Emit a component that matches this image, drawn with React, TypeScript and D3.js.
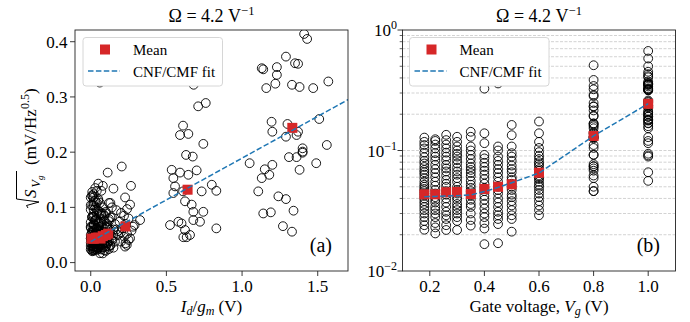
import * as d3 from "d3";

// gate voltages of the measured columns (V)
const gateVoltages = [0.18, 0.22, 0.26, 0.3, 0.35, 0.4, 0.45, 0.5, 0.6, 0.8, 1.0];

// device points per gate voltage: [Id/gm (V), sqrt(S_Vg) (mV/Hz^0.5)]
const pts018 = [
  [0.01, 0.128], [0.0, 0.118], [0.02, 0.111], [0.01, 0.104], [0.0, 0.096], [0.02, 0.088],
  [0.01, 0.082], [0.03, 0.078], [0.0, 0.073], [0.02, 0.069], [0.01, 0.066], [0.0, 0.063],
  [0.02, 0.059], [0.01, 0.055], [0.03, 0.052], [0.0, 0.05], [0.02, 0.048], [0.01, 0.046],
  [0.0, 0.044], [0.02, 0.042], [0.01, 0.04], [0.03, 0.038], [0.0, 0.036], [0.02, 0.034],
  [0.01, 0.032], [0.0, 0.03], [0.02, 0.028], [0.01, 0.026], [0.0, 0.024], [0.02, 0.022],
];
const pts022 = [
  [0.02, 0.124], [0.01, 0.12], [0.03, 0.112], [0.0, 0.104], [0.02, 0.095], [0.04, 0.089],
  [0.01, 0.083], [0.03, 0.076], [0.02, 0.07], [0.0, 0.065], [0.04, 0.06], [0.01, 0.055],
  [0.03, 0.051], [0.02, 0.047], [0.0, 0.044], [0.04, 0.041], [0.01, 0.039], [0.03, 0.037],
  [0.02, 0.034], [0.05, 0.032], [0.01, 0.03], [0.03, 0.028], [0.02, 0.025], [0.04, 0.023],
  [0.01, 0.0205],
];
const pts026 = [
  [0.03, 0.135], [0.01, 0.122], [0.05, 0.112], [0.02, 0.104], [0.04, 0.096], [0.06, 0.089],
  [0.01, 0.083], [0.03, 0.076], [0.05, 0.071], [0.02, 0.067], [0.04, 0.062], [0.01, 0.057],
  [0.03, 0.053], [0.05, 0.05], [0.02, 0.046], [0.04, 0.043], [0.06, 0.04], [0.01, 0.037],
  [0.03, 0.034], [0.05, 0.031], [0.02, 0.029], [0.04, 0.027], [0.03, 0.024], [0.01, 0.0219],
];
const pts030 = [
  [0.04, 0.13], [0.02, 0.118], [0.06, 0.108], [0.03, 0.1], [0.05, 0.094], [0.07, 0.089],
  [0.02, 0.083], [0.04, 0.078], [0.06, 0.072], [0.03, 0.067], [0.08, 0.063], [0.05, 0.059],
  [0.02, 0.055], [0.04, 0.05], [0.06, 0.047], [0.03, 0.044], [0.07, 0.041], [0.05, 0.039],
  [0.02, 0.036], [0.04, 0.034], [0.06, 0.032], [0.03, 0.03], [0.05, 0.028], [0.04, 0.026],
  [0.02, 0.0219],
];
const pts035 = [
  [0.05, 0.143], [0.07, 0.13], [0.04, 0.108], [0.08, 0.1], [0.06, 0.092], [0.09, 0.085],
  [0.03, 0.078], [0.07, 0.073], [0.05, 0.069], [0.1, 0.065], [0.04, 0.061], [0.08, 0.056],
  [0.06, 0.052], [0.03, 0.049], [0.09, 0.046], [0.05, 0.042], [0.07, 0.039], [0.04, 0.036],
  [0.08, 0.034], [0.06, 0.03], [0.05, 0.0265], [0.07, 0.0238],
];
const pts040 = [
  [0.06, 0.326], [0.08, 0.139], [0.05, 0.115], [0.1, 0.092], [0.07, 0.086], [0.12, 0.079],
  [0.05, 0.073], [0.09, 0.068], [0.11, 0.063], [0.06, 0.058], [0.08, 0.053], [0.1, 0.049],
  [0.04, 0.046], [0.07, 0.042], [0.12, 0.039], [0.09, 0.036], [0.06, 0.033], [0.1, 0.03],
  [0.08, 0.028], [0.05, 0.025], [0.09, 0.0225], [0.08, 0.0167],
];
const pts045 = [
  [0.1, 0.36], [0.12, 0.108], [0.08, 0.089], [0.14, 0.1], [0.09, 0.076], [0.13, 0.082],
  [0.07, 0.065], [0.11, 0.07], [0.15, 0.06], [0.08, 0.055], [0.12, 0.05], [0.1, 0.047],
  [0.14, 0.044], [0.07, 0.04], [0.11, 0.037], [0.09, 0.034], [0.13, 0.031], [0.1, 0.029],
  [0.08, 0.027], [0.12, 0.0245], [0.06, 0.017],
];
const pts050 = [
  [0.112, 0.163], [0.15, 0.134], [0.13, 0.108], [0.17, 0.095], [0.1, 0.089], [0.14, 0.082],
  [0.12, 0.075], [0.16, 0.07], [0.11, 0.066], [0.13, 0.06], [0.18, 0.057], [0.09, 0.053],
  [0.15, 0.05], [0.12, 0.047], [0.1, 0.043], [0.14, 0.041], [0.16, 0.038], [0.11, 0.035],
  [0.13, 0.032], [0.12, 0.029], [0.15, 0.027], [0.1, 0.0212],
];
const pts060 = [
  [0.205, 0.174], [0.266, 0.139], [0.227, 0.118], [0.26, 0.105], [0.326, 0.077], [0.2, 0.09],
  [0.28, 0.065], [0.26, 0.044], [0.238, 0.032], [0.227, 0.029], [0.24, 0.097], [0.22, 0.085],
  [0.25, 0.08], [0.19, 0.074], [0.23, 0.07], [0.21, 0.062], [0.27, 0.058], [0.2, 0.055],
  [0.24, 0.052], [0.18, 0.05], [0.22, 0.047], [0.25, 0.041], [0.2, 0.038], [0.23, 0.035],
  [0.29, 0.068], [0.17, 0.06],
];
const pts080 = [
  [0.7, 0.51], [0.59, 0.385], [0.62, 0.343], [0.68, 0.322], [0.71, 0.283], [0.76, 0.289],
  [0.59, 0.231], [0.61, 0.248], [0.645, 0.233], [0.744, 0.215], [0.63, 0.195], [0.674, 0.192],
  [0.535, 0.168], [0.59, 0.163], [0.645, 0.159], [0.7, 0.167], [0.546, 0.153], [0.557, 0.138],
  [0.546, 0.126], [0.61, 0.129], [0.623, 0.111], [0.667, 0.105], [0.678, 0.092], [0.733, 0.129],
  [0.744, 0.092], [0.8, 0.141], [0.83, 0.13], [0.524, 0.068], [0.579, 0.074], [0.6, 0.071],
  [0.678, 0.077], [0.722, 0.074], [0.623, 0.059], [0.634, 0.046], [0.612, 0.046], [0.656, 0.05],
  [0.83, 0.062],
];
const pts100 = [
  [1.45, 0.67], [1.5, 0.58], [1.3, 0.5], [1.2, 0.45], [1.34, 0.43], [1.41, 0.414],
  [1.43, 0.405], [1.29, 0.373], [1.13, 0.352], [1.14, 0.35], [1.23, 0.354], [1.35, 0.361],
  [1.37, 0.36], [1.23, 0.34], [1.22, 0.324], [1.16, 0.316], [1.33, 0.322], [1.38, 0.318],
  [1.47, 0.316], [1.57, 0.328], [1.195, 0.255], [1.2, 0.237], [1.3, 0.251], [1.29, 0.228],
  [1.36, 0.231], [1.37, 0.237], [1.51, 0.26], [1.4, 0.207], [1.56, 0.213], [1.4, 0.201],
  [1.05, 0.18], [1.15, 0.169], [1.2, 0.177], [1.18, 0.159], [1.13, 0.153], [1.31, 0.191],
  [1.36, 0.191], [1.4, 0.199], [1.38, 0.168], [1.49, 0.18], [1.107, 0.129], [1.24, 0.12],
  [1.29, 0.115], [1.14, 0.089], [1.19, 0.091], [1.34, 0.094], [1.27, 0.066], [1.33, 0.056],
];
const columns = [pts018, pts022, pts026, pts030, pts035, pts040, pts045, pts050, pts060, pts080, pts100];

// means per gate voltage
const meanIdGm = [0.005, 0.02, 0.035, 0.05, 0.065, 0.08, 0.1, 0.115, 0.229, 0.64, 1.332];
const meanS = [0.0433, 0.0433, 0.045, 0.0453, 0.0435, 0.0479, 0.05, 0.0524, 0.0654, 0.132, 0.244];

// CNF/CMF fit
const fitLeftX = [0, 1.75];
const fitLeftS = [0.038, 0.3026];
const fitRightS = [0.0414, 0.0416, 0.0419, 0.0422, 0.0428, 0.0456, 0.0494, 0.054, 0.065, 0.132, 0.245];

const leftXTicks = [0, 0.5, 1.0, 1.5];
const leftYTicks = [0, 0.1, 0.2, 0.3, 0.4];
const rightXTicks = [0.2, 0.4, 0.6, 0.8, 1.0];
const rightYMajor = [0.01, 0.1, 1];
const rightYExp = ["\u22122", "\u22121", "0"];

const font = "Liberation Serif, Times New Roman, Tinos, serif";
const red = "#d62728";
const blue = "#1f77b4";

function Legend({ x, y }: { x: number; y: number }) {
  return (
    <g>
      <rect x={x} y={y} width={139.5} height={48.5} rx={3} fill="#fff" stroke="#cccccc" strokeWidth={0.8} />
      <rect x={x + 17} y={y + 7} width={10} height={10} fill={red} />
      <text x={x + 50} y={y + 17.5} fontSize={15}>Mean</text>
      <line x1={x + 5} x2={x + 37} y1={y + 33.5} y2={y + 33.5} stroke={blue} strokeWidth={1.5} strokeDasharray="5.5,2.4" />
      <text x={x + 50} y={y + 39} fontSize={15}>CNF/CMF fit</text>
    </g>
  );
}

function Title({ cx }: { cx: number }) {
  return (
    <text x={cx} y={21.5} fontSize={18} textAnchor="middle">
      {"\u03A9 = 4.2 V"}
      <tspan fontSize={12.5} dy={-7}>{"\u22121"}</tspan>
    </text>
  );
}

export default function App() {
  const xL = d3.scaleLinear().domain([-0.104, 1.7]).range([75, 348]);
  const yL = d3.scaleLinear().domain([-0.0152, 0.4212]).range([271, 30]);
  const xR = d3.scaleLinear().domain([0.1, 1.1]).range([402.5, 675.5]);
  const yR = d3.scaleLog().domain([0.01, 1]).range([271, 30]);

  const lineL = d3.line<number>().x((_, i) => xL(fitLeftX[i])).y((d) => yL(d));
  const lineR = d3.line<number>().x((_, i) => xR(gateVoltages[i])).y((d) => yR(d));

  const rightMinor = yR.ticks().filter((t) => !rightYMajor.some((m) => Math.abs(m - t) < 1e-9));
  const r = 4.4;

  const [l0, l1] = xL.range();
  const [t0, t1] = yL.range();
  const [r0, r1] = xR.range();

  return (
    <svg width={690} height={322} style={{ position: "absolute", left: 0, top: 0, fontFamily: font }}>
      <defs>
        <clipPath id="clipL"><rect x={l0} y={t1} width={l1 - l0} height={t0 - t1} /></clipPath>
        <clipPath id="clipR"><rect x={r0} y={t1} width={r1 - r0} height={t0 - t1} /></clipPath>
      </defs>
      <rect width={690} height={322} fill="#fff" />

      {/* ---------- panel (a) ---------- */}
      <g clipPath="url(#clipL)">
        {columns.map((col, k) =>
          col.map((p, i) => (
            <circle key={`a${k}-${i}`} cx={xL(p[0])} cy={yL(p[1])} r={r} fill="none" stroke="#000" strokeWidth={0.9} />
          ))
        )}
        {meanS.map((s, i) => (
          <rect key={`am${i}`} x={xL(meanIdGm[i]) - 5} y={yL(s) - 5} width={10} height={10} fill={red} />
        ))}
        <path d={lineL(fitLeftS) || ""} fill="none" stroke={blue} strokeWidth={1.5} strokeDasharray="5.5,2.4" />
      </g>
      <rect x={l0} y={t1} width={l1 - l0} height={t0 - t1} fill="none" stroke="#222" strokeWidth={0.9} />
      {leftXTicks.map((t) => (
        <g key={`axt${t}`}>
          <line x1={xL(t)} x2={xL(t)} y1={t0} y2={t0 + 5} stroke="#222" strokeWidth={0.9} />
          <text x={xL(t)} y={291.5} fontSize={17} textAnchor="middle">{t.toFixed(1)}</text>
        </g>
      ))}
      {leftYTicks.map((t) => (
        <g key={`ayt${t}`}>
          <line x1={l0 - 5} x2={l0} y1={yL(t)} y2={yL(t)} stroke="#222" strokeWidth={0.9} />
          <text x={67.5} y={yL(t) + 5.8} fontSize={17} textAnchor="end">{t.toFixed(1)}</text>
        </g>
      ))}
      <Legend x={83} y={37.5} />
      <text x={332} y={252} fontSize={20} textAnchor="end">(a)</text>
      <Title cx={(l0 + l1) / 2} />
      <text x={(l0 + l1) / 2} y={311.5} fontSize={17} textAnchor="middle">
        <tspan fontStyle="italic">I</tspan>
        <tspan fontStyle="italic" fontSize={12} dy={3}>d</tspan>
        <tspan dy={-3}>/</tspan>
        <tspan fontStyle="italic">g</tspan>
        <tspan fontStyle="italic" fontSize={12} dy={3}>m</tspan>
        <tspan dy={-3}> (V)</tspan>
      </text>
      <g transform="translate(36,208) rotate(-90)" fontSize={17}>
        <path d="M0,-8 L2.5,-9.5 L6,3 L9,-19.5 L37,-19.5" fill="none" stroke="#000" strokeWidth={1} />
        <text x={10} y={0} fontStyle="italic">S</text>
        <text x={20.5} y={4} fontSize={12} fontStyle="italic">V</text>
        <text x={28} y={6.5} fontSize={9} fontStyle="italic">g</text>
        <text x={43} y={0}>(mV/Hz</text>
        <text x={99} y={-7} fontSize={12}>0.5</text>
        <text x={114} y={0}>)</text>
      </g>

      {/* ---------- panel (b) ---------- */}
      <g clipPath="url(#clipR)">
        {[...rightMinor, 0.1].map((t) => (
          <line key={`g${t}`} x1={r0} x2={r1} y1={yR(t)} y2={yR(t)} stroke="#c8c8c8" strokeWidth={0.8} strokeDasharray="3,1.5" />
        ))}
        {columns.map((col, k) =>
          col.map((p, i) => (
            <circle key={`b${k}-${i}`} cx={xR(gateVoltages[k])} cy={yR(p[1])} r={r} fill="none" stroke="#000" strokeWidth={0.9} />
          ))
        )}
        {meanS.map((s, i) => (
          <rect key={`bm${i}`} x={xR(gateVoltages[i]) - 5} y={yR(s) - 5} width={10} height={10} fill={red} />
        ))}
        <path d={lineR(fitRightS) || ""} fill="none" stroke={blue} strokeWidth={1.5} strokeDasharray="5.5,2.4" />
      </g>
      <rect x={r0} y={t1} width={r1 - r0} height={t0 - t1} fill="none" stroke="#222" strokeWidth={0.9} />
      {rightXTicks.map((t) => (
        <g key={`bxt${t}`}>
          <line x1={xR(t)} x2={xR(t)} y1={t0} y2={t0 + 5} stroke="#222" strokeWidth={0.9} />
          <text x={xR(t)} y={291.5} fontSize={17} textAnchor="middle">{t.toFixed(1)}</text>
        </g>
      ))}
      {rightMinor.map((t) => (
        <line key={`bmt${t}`} x1={r0 - 2.8} x2={r0} y1={yR(t)} y2={yR(t)} stroke="#222" strokeWidth={0.7} />
      ))}
      {rightYMajor.map((t, i) => (
        <g key={`byt${t}`}>
          <line x1={r0 - 5} x2={r0} y1={yR(t)} y2={yR(t)} stroke="#222" strokeWidth={0.9} />
          <text x={397} y={yR(t) + 6} fontSize={17} textAnchor="end">
            10<tspan fontSize={12} dy={-7}>{rightYExp[i]}</tspan>
          </text>
        </g>
      ))}
      <Legend x={409.5} y={37.5} />
      <text x={660} y={252} fontSize={20} textAnchor="end">(b)</text>
      <Title cx={(r0 + r1) / 2} />
      <text x={(r0 + r1) / 2} y={311.5} fontSize={17} textAnchor="middle">
        {"Gate voltage, "}
        <tspan fontStyle="italic">V</tspan>
        <tspan fontStyle="italic" fontSize={12} dy={3}>g</tspan>
        <tspan dy={-3}> (V)</tspan>
      </text>
    </svg>
  );
}
